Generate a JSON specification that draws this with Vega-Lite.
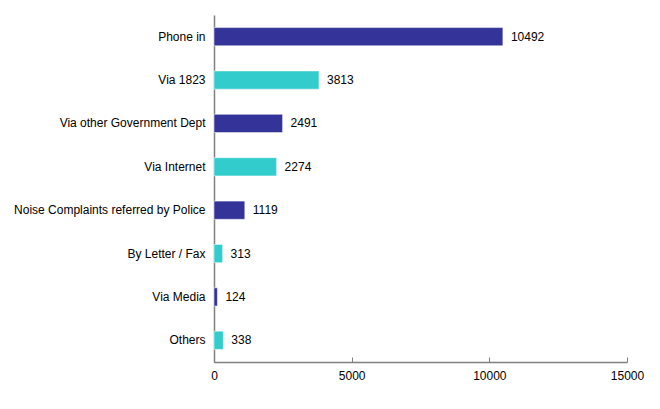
{
  "$schema": "https://vega.github.io/schema/vega-lite/v6.json",
  "width": 413,
  "height": 347,
  "autosize": {"type": "none"},
  "padding": {"left": 214, "top": 15, "right": 33, "bottom": 47},
  "background": "white",
  "data": {
    "values": [
      {"source": "Phone in", "count": 10492, "shade": "a"},
      {"source": "Via 1823", "count": 3813, "shade": "b"},
      {"source": "Via other Government Dept ", "count": 2491, "shade": "a"},
      {"source": "Via Internet", "count": 2274, "shade": "b"},
      {"source": "Noise Complaints referred by Police", "count": 1119, "shade": "a"},
      {"source": "By Letter / Fax", "count": 313, "shade": "b"},
      {"source": "Via Media", "count": 124, "shade": "a"},
      {"source": "Others", "count": 338, "shade": "b"}
    ]
  },
  "encoding": {
    "y": {
      "field": "source",
      "type": "nominal",
      "sort": null,
      "title": null,
      "scale": {"paddingInner": 0.58, "paddingOuter": 0.29},
      "axis": {
        "ticks": false,
        "labelPadding": 9,
        "labelFontSize": 12,
        "labelColor": "#000000",
        "labelFont": "Liberation Sans",
        "labelLimit": 300,
        "domainColor": "#808080",
        "domainWidth": 1.5
      }
    },
    "x": {
      "field": "count",
      "type": "quantitative",
      "title": null,
      "scale": {"domain": [0, 15000], "nice": false},
      "axis": {
        "values": [0, 5000, 10000, 15000],
        "format": "d",
        "grid": false,
        "tickSize": -5,
        "tickColor": "#808080",
        "domainColor": "#808080",
        "domainWidth": 1.5,
        "labelPadding": 13,
        "labelFontSize": 12,
        "labelColor": "#000000",
        "labelFont": "Liberation Sans",
        "labelFlush": false
      }
    }
  },
  "layer": [
    {
      "mark": {"type": "bar", "stroke": "white", "strokeWidth": 0.5},
      "encoding": {
        "color": {
          "field": "shade",
          "type": "nominal",
          "legend": null,
          "scale": {"domain": ["a", "b"], "range": ["#333399", "#33CCCC"]}
        }
      }
    },
    {
      "mark": {"type": "text", "align": "left", "dx": 8, "fontSize": 12, "font": "Liberation Sans", "color": "#000000"},
      "encoding": {"text": {"field": "count", "type": "quantitative", "format": "d"}}
    }
  ],
  "config": {"view": {"stroke": null}}
}
